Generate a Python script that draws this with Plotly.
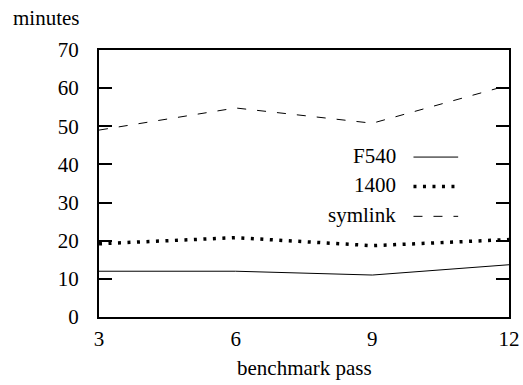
import plotly.graph_objects as go

passes = [3, 6, 9, 12]
f540 = [12, 12, 11, 13.7]
s1400 = [19.2, 20.8, 18.7, 20.3]
symlink = [49, 54.8, 50.8, 60.8]
series_names = ["F540", "1400", "symlink"]
y_ticks = [0, 10, 20, 30, 40, 50, 60, 70]

FONT = "Liberation Serif"
dashes = ["solid", "3px,6.5px", "9px,11px"]
widths = [1, 3.5, 1]

fig = go.Figure()
for name, vals, d, w in zip(series_names, [f540, s1400, symlink], dashes, widths):
    fig.add_trace(go.Scatter(x=passes, y=vals, mode="lines", name=name,
                             line=dict(color="black", width=w, dash=d),
                             showlegend=False))

# custom legend: text then line sample
leg_y = [0.604, 0.494, 0.382]
for name, d, w, ly in zip(series_names, dashes, widths, leg_y):
    fig.add_annotation(x=0.73, y=ly, xref="paper", yref="paper", text=name,
                       showarrow=False, xanchor="right", yanchor="middle",
                       font=dict(family=FONT, size=21, color="black"))
    fig.add_shape(type="line", xref="paper", yref="paper",
                  x0=0.767, x1=0.876, y0=ly - 0.005, y1=ly - 0.005,
                  line=dict(color="black", width=w, dash=d))

fig.add_annotation(x=-0.215, y=1.12, xref="paper", yref="paper", text="minutes",
                   showarrow=False, xanchor="left", yanchor="middle",
                   font=dict(family=FONT, size=21, color="black"))
fig.add_annotation(x=0.5, y=-0.19, xref="paper", yref="paper", text="benchmark pass",
                   showarrow=False, xanchor="center", yanchor="middle",
                   font=dict(family=FONT, size=21, color="black"))

fig.update_layout(
    template="none",
    width=523, height=385,
    margin=dict(l=99, r=14, t=50, b=68),
    paper_bgcolor="white", plot_bgcolor="white",
    font=dict(family=FONT, size=21, color="black"),
    xaxis=dict(range=[3, 12], tickvals=passes, showgrid=False, zeroline=False,
               showline=True, mirror=True, linecolor="black", linewidth=2,
               ticks="", ticklabelstandoff=2,
               tickfont=dict(family=FONT, size=21, color="black")),
    yaxis=dict(range=[0, 70], tickvals=y_ticks, showgrid=False, zeroline=False,
               showline=True, mirror="ticks", linecolor="black", linewidth=2,
               ticks="inside", ticklen=13, tickwidth=2, tickcolor="black",
               ticklabelstandoff=14,
               tickfont=dict(family=FONT, size=21, color="black")),
)

fig.write_html("out.html")
